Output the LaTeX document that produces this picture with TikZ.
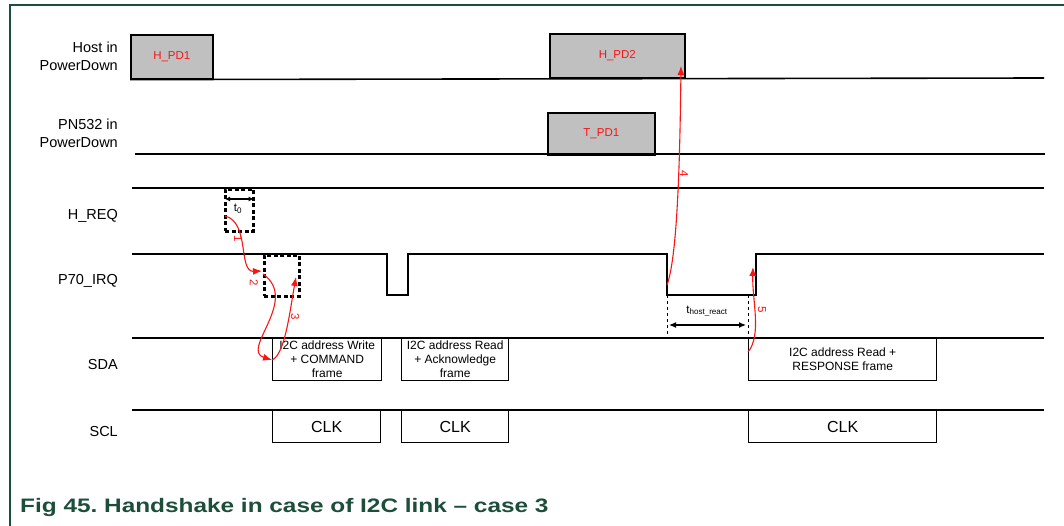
\documentclass[tikz,border=0pt]{standalone}
\usepackage{fontspec}
\usepackage{graphicx}
\setmainfont{Liberation Sans}
\usetikzlibrary{arrows.meta, positioning, calc}
\definecolor{nxpgreen}{RGB}{28,78,58}
\definecolor{pdgray}{RGB}{192,192,192}
\definecolor{hsred}{RGB}{250,20,20}

\begin{document}
\begin{tikzpicture}[
    x=1pt, y=-1pt,
    signame/.style={anchor=east, align=right, inner sep=0pt, font=\fontsize{14.5}{18}\selectfont},
    pdbox/.style={draw=black, line width=1.6pt, fill=pdgray, anchor=north west,
                  inner sep=0pt, text=hsred, font=\fontsize{11.5}{14}\selectfont},
    framebox/.style={draw=black, line width=1.4pt, fill=white, anchor=north west,
                  inner sep=0pt, align=center, font=\fontsize{12}{14}\selectfont},
    clkbox/.style={draw=black, line width=1.4pt, fill=white, anchor=north west,
                  inner sep=0pt, font=\fontsize{16}{18}\selectfont},
    waitbox/.style={draw=black, line width=2.6pt, dash pattern=on 4pt off 2.5pt,
                  anchor=north west, inner sep=0pt},
    signal/.style={line width=1.6pt},
    hsarrow/.style={-{Latex[length=9pt,width=7pt]}, hsred, line width=1.1pt},
    hsstep/.style={text=hsred, font=\fontsize{11.5}{12}\selectfont, rotate=-90, inner sep=0pt},
    span/.style={{Latex[length=7pt,width=6pt]}-{Latex[length=7pt,width=6pt]}, line width=1.2pt},
    tlabel/.style={font=\fontsize{11.5}{13}\selectfont, inner sep=0pt}
  ]
    \useasboundingbox (0,0) rectangle (1064,526);
    \draw[nxpgreen, line width=1.2pt] (10,526) -- (10,5) -- (1064,5);

    % Host in PowerDown
    \node[signame] (lhost) at (118,56) {Host in\\PowerDown};
    \node[pdbox, minimum width=82pt, minimum height=44pt] (hpd1) at (130,34) {H\_PD1};
    \node[pdbox, minimum width=135pt, minimum height=44pt] (hpd2) at (549,33) {H\_PD2};
    \draw[signal] (hpd1.south west) -- (1044,78);

    % PN532 in PowerDown
    \node[signame] (lpn) at (118,133) {PN532 in\\PowerDown};
    \node[pdbox, minimum width=107pt, minimum height=42pt] (tpd1) at (547,112) {T\_PD1};
    \draw[signal] (135,154) -- (1045,154);

    % H_REQ
    \node[signame] (lhreq) at (118,216) {H\_REQ};
    \draw[signal] (132,188) -- (1044,188);
    \node[waitbox, minimum width=28pt, minimum height=42pt] (wait0) at (224,188) {};
    \draw[{Latex[length=5pt,width=5pt]}-{Latex[length=5pt,width=5pt]}, line width=1.2pt]
      ($(wait0.north west)+(1,11)$) -- ($(wait0.north east)+(-1,11)$);
    \node[tlabel] (t0) at (238,209) {t\textsubscript{0}};

    % P70_IRQ
    \node[signame] (lirq) at (118,281) {P70\_IRQ};
    \draw[signal] (132,254) -- (387,254) -- (387,295) -- (408,295) -- (408,254)
      -- (667,254) -- (667,295) -- (756,295) -- (756,254) -- (1044,254);
    \node[waitbox, minimum width=35pt, minimum height=41pt] (wait1) at (263,254) {};

    % SDA
    \node[signame] (lsda) at (118,365) {SDA};
    \draw[signal] (132,338) -- (1044,338);
    \node[framebox, minimum width=109pt, minimum height=42pt] (sda1) at (272,338)
      {I2C address Write\\+ COMMAND\\frame};
    \node[framebox, minimum width=107pt, minimum height=42pt] (sda2) at (401,338)
      {I2C address Read\\+ Acknowledge\\frame};
    \node[framebox, minimum width=188pt, minimum height=42pt] (sda3) at (748,338)
      {I2C address Read +\\RESPONSE frame};

    % SCL
    \node[signame] (lscl) at (118,432) {SCL};
    \draw[signal] (132,410) -- (1044,410);
    \node[clkbox, minimum width=108pt, minimum height=32pt] (scl1) at (272,410) {CLK};
    \node[clkbox, minimum width=107pt, minimum height=32pt] (scl2) at (401,410) {CLK};
    \node[clkbox, minimum width=188pt, minimum height=32pt] (scl3) at (748,410) {CLK};

    % host reaction time
    \draw[dashed, line width=0.8pt] (667,295) -- (667,338);
    \draw[dashed, line width=0.8pt] (748,295) -- (748,338);
    \draw[span] (669,325) -- (746,325);
    \node[tlabel] (treact) at (707,311) {t\textsubscript{host\_react}};

    % handshake steps
    \coordinate (s1a) at (225,216);
    \coordinate (s1b) at (262,271);
    \coordinate (s2a) at (263,274);
    \coordinate (s2b) at (272,360);
    \coordinate (s3b) at (296,277);
    \coordinate (s4a) at (667,285);
    \coordinate (s4b) at (681,66);
    \coordinate (s5a) at (748,352);
    \coordinate (s5b) at (753,267);
    \draw[hsarrow] (s1a) .. controls (250,222) and (238,272) .. (s1b);
    \draw[hsarrow] (s2a) .. controls (300,300) and (240,350) .. (s2b);
    \draw[hsarrow] (s2b) .. controls (285,355) and (290,310) .. (s3b);
    \draw[hsarrow] (s4a) .. controls (678,255) and (680,150) .. (s4b);
    \draw[hsarrow] (s5a) .. controls (762,335) and (752,300) .. (s5b);
    \node[hsstep] (n1) at (238,239) {1};
    \node[hsstep] (n2) at (254,283) {2};
    \node[hsstep] (n3) at (295,317) {3};
    \node[hsstep] (n4) at (684,174) {4};
    \node[hsstep] (n5) at (762,310) {5};

    \node[anchor=west, inner sep=0pt, text=nxpgreen, font=\fontsize{19.5}{22}\selectfont\bfseries]
      (caption) at (20,507) {\scalebox{1.25}[1]{Fig 45.\ Handshake in case of I2C link -- case 3}};
\end{tikzpicture}
\end{document}
